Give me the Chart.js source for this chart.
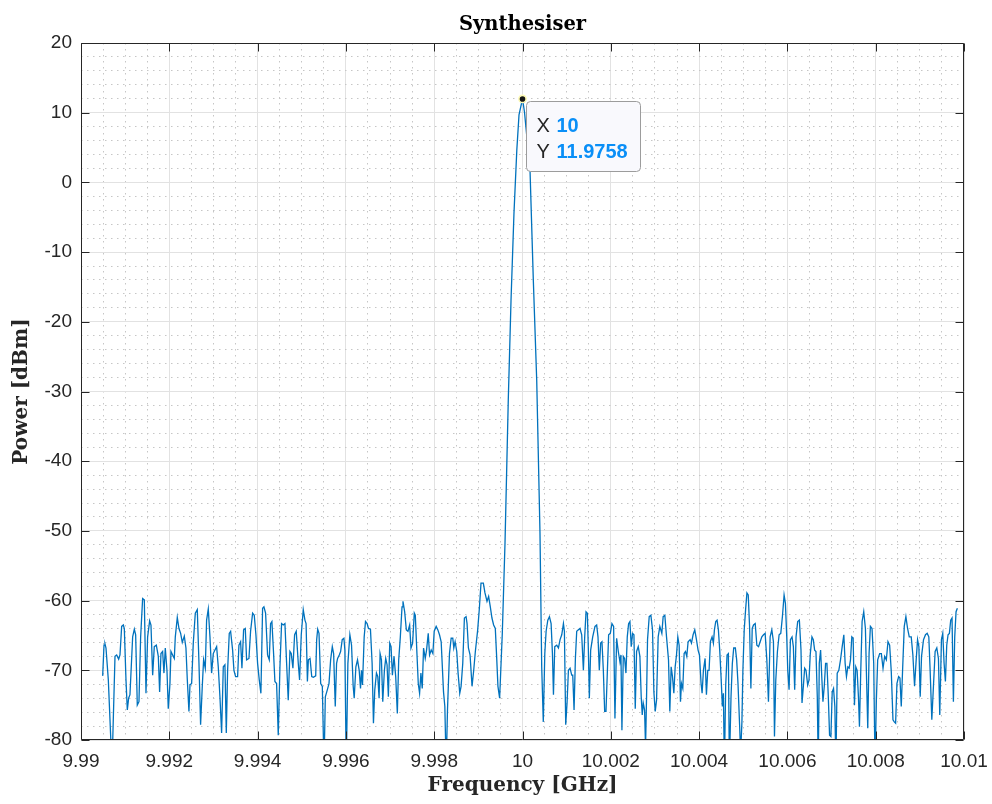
<!DOCTYPE html>
<html>
<head>
<meta charset="utf-8">
<script src="https://cdn.jsdelivr.net/npm/chart.js@4/dist/chart.umd.min.js"></script>
<style>
html,body{margin:0;padding:0;background:#fff;}
canvas{display:block;}
</style>
</head>
<body>
<canvas id="c" width="992" height="804"></canvas>
<script>
const chartTitle = 'Synthesiser';
const xAxisTitle = 'Frequency [GHz]';
const yAxisTitle = 'Power [dBm]';
const xTickValues = [9.99, 9.992, 9.994, 9.996, 9.998, 10, 10.002, 10.004, 10.006, 10.008, 10.01];
const xTickLabels = ['9.99','9.992','9.994','9.996','9.998','10','10.002','10.004','10.006','10.008','10.01'];
const yTickValues = [-80, -70, -60, -50, -40, -30, -20, -10, 0, 10, 20];
const yTickLabels = ['-80','-70','-60','-50','-40','-30','-20','-10','0','10','20'];
const datatipLabels = ['X', 'Y'];

const freqGHz = [
9.990491,9.990521,9.990543,9.990566,9.990619,9.990702,9.990770,9.990808,9.990853,9.990883,
9.990921,9.990959,9.990981,9.991019,9.991049,9.991079,9.991109,9.991170,9.991208,9.991238,
9.991275,9.991313,9.991351,9.991396,9.991434,9.991472,9.991509,9.991555,9.991585,9.991623,
9.991660,9.991706,9.991751,9.991781,9.991811,9.991849,9.991879,9.991909,9.991947,9.991977,
9.992015,9.992038,9.992075,9.992113,9.992136,9.992181,9.992219,9.992257,9.992294,9.992340,
9.992377,9.992408,9.992445,9.992468,9.992506,9.992543,9.992589,9.992634,9.992672,9.992709,
9.992747,9.992777,9.992815,9.992845,9.992883,9.992921,9.992958,9.992996,9.993034,9.993072,
9.993109,9.993147,9.993185,9.993223,9.993260,9.993291,9.993321,9.993358,9.993389,9.993434,
9.993464,9.993502,9.993547,9.993577,9.993615,9.993645,9.993683,9.993721,9.993751,9.993804,
9.993841,9.993887,9.993924,9.993962,9.994000,9.994038,9.994075,9.994113,9.994143,9.994181,
9.994226,9.994264,9.994294,9.994324,9.994362,9.994392,9.994430,9.994468,9.994506,9.994543,
9.994581,9.994619,9.994657,9.994694,9.994732,9.994762,9.994800,9.994838,9.994875,9.994921,
9.994951,9.994989,9.995034,9.995072,
9.995098,9.995128,9.995150,9.995188,9.995226,9.995263,9.995316,9.995338,9.995361,9.995391,
9.995429,9.995466,9.995504,9.995534,9.995579,9.995617,9.995654,9.995692,9.995722,9.995759,
9.995789,9.995812,9.995850,9.995880,9.995917,9.995955,9.995977,9.996008,9.996045,9.996090,
9.996128,9.996165,9.996188,9.996226,9.996263,9.996301,9.996331,9.996353,9.996376,9.996414,
9.996444,9.996481,9.996511,9.996556,9.996594,9.996624,9.996654,9.996692,9.996722,9.996752,
9.996774,9.996805,9.996835,9.996872,9.996902,9.996932,9.996962,9.996993,9.997023,9.997053,
9.997090,9.997128,9.997165,9.997196,9.997233,9.997271,9.997293,9.997331,9.997369,9.997406,
9.997444,9.997474,9.997511,9.997549,9.997572,9.997609,9.997639,9.997669,9.997699,9.997729,
9.997759,9.997797,9.997827,9.997865,9.997895,9.997932,9.997970,9.998000,9.998045,9.998083,
9.998120,9.998158,9.998211,9.998241,9.998271,9.998301,9.998346,9.998384,9.998421,9.998444,
9.998474,9.998511,9.998541,9.998579,9.998609,9.998647,9.998684,9.998722,9.998744,9.998775,
9.998812,9.998857,9.998895,9.998932,9.998985,9.999023,9.999060,9.999113,9.999150,9.999196,
9.999233,9.999271,9.999308,9.999346,9.999384,9.999414,9.999444,9.999482,
9.999543,9.999604,9.999678,9.999740,9.999807,9.999871,9.999921,10.000000,10.000045,10.000170,
10.000245,10.000322,10.000396,10.000435,10.000471,
10.000505,10.000535,10.000573,10.000610,10.000648,10.000678,10.000701,10.000731,10.000776,10.000814,
10.000851,10.000889,10.000927,10.000949,10.000979,10.001009,10.001040,10.001077,10.001115,10.001138,
10.001168,10.001198,10.001228,10.001266,10.001303,10.001341,10.001379,10.001409,10.001439,10.001469,
10.001492,10.001514,10.001544,10.001590,10.001642,10.001680,10.001710,10.001740,10.001770,10.001800,
10.001831,10.001861,10.001891,10.001921,10.001951,10.001989,10.002026,10.002064,10.002094,10.002132,
10.002170,10.002207,10.002230,10.002252,10.002283,10.002313,10.002343,10.002373,10.002403,10.002433,
10.002463,10.002493,10.002524,10.002554,10.002584,10.002622,10.002659,10.002689,10.002712,10.002735,
10.002765,10.002787,10.002810,10.002832,10.002870,10.002908,10.002945,10.002976,10.003006,10.003036,
10.003073,10.003111,10.003156,10.003186,10.003224,10.003262,10.003307,10.003337,10.003367,10.003397,
10.003428,10.003458,10.003488,10.003518,10.003548,10.003578,10.003601,10.003631,10.003661,10.003691,
10.003721,10.003751,10.003797,10.003827,10.003864,10.003902,10.003940,10.003977,10.004008,10.004045,
10.004068,10.004098,10.004136,10.004166,10.004196,10.004226,10.004256,10.004294,10.004324,10.004347,
10.004377,10.004407,10.004437,10.004467,10.004497,10.004527,10.004550,10.004573,10.004603,10.004633,
10.004663,10.004686,10.004723,10.004753,10.004784,10.004821,10.004851,10.004881,10.004919,
10.004940,10.004970,10.004992,10.005022,10.005053,10.005083,10.005113,10.005143,10.005173,10.005203,
10.005233,10.005271,10.005308,10.005346,10.005383,10.005421,10.005459,10.005496,10.005534,10.005571,
10.005609,10.005647,10.005684,10.005707,10.005737,10.005774,10.005812,10.005850,10.005887,10.005925,
10.005955,10.005985,10.006008,10.006038,10.006068,10.006105,10.006135,10.006165,10.006196,10.006233,
10.006271,10.006308,10.006331,10.006361,10.006391,10.006421,10.006459,10.006489,10.006519,10.006556,
10.006587,10.006617,10.006647,10.006677,10.006699,10.006722,10.006752,10.006782,10.006805,10.006835,
10.006865,10.006895,10.006925,10.006955,10.006985,10.007015,10.007045,10.007075,10.007098,10.007128,
10.007165,10.007203,10.007241,10.007278,10.007308,10.007338,10.007369,10.007399,10.007429,10.007459,
10.007489,10.007519,10.007549,10.007579,10.007609,10.007632,10.007662,10.007692,10.007729,10.007767,
10.007790,10.007820,10.007850,10.007880,10.007917,10.007955,10.007985,10.008015,10.008045,10.008090,
10.008128,10.008166,10.008203,10.008241,10.008278,10.008316,10.008353,10.008391,10.008421,10.008451,
10.008481,10.008519,10.008549,10.008579,10.008609,10.008647,10.008684,10.008722,10.008760,10.008805,
10.008842,10.008880,10.008917,10.008948,10.008978,10.009008,10.009038,10.009083,10.009128,10.009166,
10.009203,10.009233,10.009271,10.009308,10.009346,10.009384,10.009421,10.009451,10.009489,10.009519,
10.009549,10.009579,10.009609,10.009639,10.009669,10.009699,10.009729,10.009760,10.009790,10.009820,
10.009850
];

const powerDbm = [
-70.8,-66.4,-66.2,-66.8,-71.4,-84,-68.0,-67.8,-68.4,-67.8,
-63.7,-63.5,-64.0,-71.4,-75.7,-74.0,-73.5,-65.2,-64.1,-64.9,
-75.0,-74.5,-65.2,-59.7,-59.9,-73.3,-65.2,-62.9,-63.5,-70.7,
-66.6,-66.4,-68.0,-73.1,-67.6,-67.3,-70.4,-66.8,-70.0,-75.5,
-71.9,-67.3,-67.8,-68.3,-65.2,-62.4,-64.0,-64.7,-66.0,-65.1,
-66.8,-71.4,-75.9,-72.1,-71.9,-66.1,-61.8,-61.3,-69.0,-77.8,
-72.3,-68.5,-69.7,-62.8,-61.2,-65.2,-70.4,-67.6,-67.1,-66.6,
-69.5,-73.8,-79.0,-69.5,-69.2,-79.0,-70.0,-64.7,-64.4,-67.1,
-70.0,-70.9,-70.9,-66.4,-65.9,-69.7,-64.2,-64.0,-68.5,-68.3,
-64.4,-61.8,-62.1,-64.9,-69.0,-71.4,-73.3,-61.1,-60.9,-61.8,
-67.8,-68.5,-63.3,-63.0,-67.6,-71.6,-71.9,-79.3,-69.5,-63.3,
-63.5,-63.3,-69.0,-74.3,-67.3,-67.6,-69.7,-64.9,-64.4,-69.0,
-71.4,-64.9,-61.3,-62.8,
-63.3,-71.6,-68.5,-68.3,-70.9,-71.0,-70.8,-65.6,-64.1,-64.7,
-71.9,-72.3,-84,-73.8,-72.8,-71.9,-68.5,-66.6,-67.6,-75.2,
-69.0,-68.3,-67.8,-67.3,-65.6,-65.4,-67.1,-84,-69.0,-64.9,
-66.4,-72.3,-74.0,-69.5,-68.5,-70.0,-72.6,-70.0,-72.1,-65.2,
-63.0,-63.3,-64.0,-64.1,-69.0,-77.6,-72.8,-70.4,-70.9,-74.0,
-67.6,-68.5,-74.5,-70.0,-68.3,-69.2,-73.8,-66.1,-66.6,-70.7,
-68.0,-70.9,-76.2,-68.5,-65.2,-60.9,-60.1,-61.6,-64.2,-64.4,
-63.5,-66.8,-66.1,-61.8,-62.1,-67.6,-71.9,-73.3,-70.4,-72.6,
-66.8,-68.3,-67.1,-64.7,-67.8,-67.1,-67.6,-64.4,-63.7,-64.2,
-64.9,-65.9,-73.1,-75.2,-84,-75.7,-67.6,-65.4,-65.4,-66.8,
-65.9,-67.3,-70.4,-73.3,-72.3,-69.0,-62.5,-62.3,-63.3,-66.8,
-67.8,-72.3,-70.0,-67.3,-64.2,-61.1,-57.5,-57.5,-58.9,-60.1,
-59.4,-60.9,-62.5,-63.5,-64.0,-68.0,-72.3,-74.0,
-64.6,-51.7,-31.2,-16.9,-4.4,4.6,9.7,11.9758,10.1,1.8,
-14.0,-28.4,-50.3,-69.5,-77.4,
-67.6,-64.4,-62.8,-62.3,-63.3,-67.6,-73.5,-66.6,-66.4,-66.8,
-65.6,-64.9,-63.3,-64.4,-77.8,-74.7,-70.0,-69.7,-70.7,-70.7,
-75.7,-68.3,-64.4,-64.2,-64.0,-64.9,-70.0,-65.2,-61.6,-61.8,
-67.1,-74.0,-67.1,-65.2,-63.7,-63.5,-65.2,-70.0,-66.1,-65.9,
-70.0,-75.9,-75.9,-70.4,-64.9,-64.7,-63.3,-63.7,-76.9,-65.4,
-67.3,-68.8,-67.8,-78.6,-68.0,-68.3,-70.4,-65.2,-63.3,-63.0,
-66.6,-64.7,-64.9,-75.5,-67.3,-66.6,-68.0,-73.8,-76.4,-74.7,
-75.7,-81,-73.8,-65.6,-62.3,-62.1,-64.2,-73.1,-75.9,-74.3,
-65.2,-63.7,-64.7,-62.3,-62.1,-65.2,-68.5,-75.9,-69.5,-70.9,
-73.3,-69.5,-67.8,-65.2,-66.4,-74.5,-71.9,-72.6,-67.6,-67.3,
-68.0,-65.9,-65.6,-66.1,-64.9,-64.2,-65.6,-67.1,-67.8,-71.9,
-73.3,-70.0,-68.3,-73.5,-70.0,-70.0,-65.9,-65.2,-66.1,-64.2,
-63.0,-62.8,-64.2,-67.1,-70.9,-75.2,-73.3,-84,-72.1,-67.8,
-67.6,-84,-73.8,-69.0,-66.8,-66.8,-68.5,-71.9,-78.1,
-82,-77.4,-70.0,-64.2,-61.3,-58.9,-59.2,-63.7,-72.6,-64.0,
-63.5,-63.3,-66.4,-66.6,-65.9,-65.2,-64.9,-64.7,-68.5,-74.5,
-65.2,-64.2,-65.9,-79.5,-71.4,-67.3,-64.9,-64.7,-62.3,-59.2,
-60.4,-65.2,-70.0,-72.8,-65.6,-65.2,-66.6,-72.8,-65.2,-63.0,
-62.8,-67.1,-74.7,-72.3,-69.7,-70.0,-72.1,-71.4,-67.6,-65.2,
-65.6,-67.1,-67.3,-73.8,-84,-69.0,-67.1,-71.4,-74.5,-72.3,
-69.0,-69.0,-73.5,-79.3,-79.5,-73.1,-72.6,-75.2,-84,-70.4,
-70.0,-68.5,-66.6,-64.9,-69.0,-70.9,-69.5,-69.7,-68.5,-65.2,
-65.4,-75.0,-69.5,-70.0,-73.8,-78.1,-70.0,-63.0,-61.6,-64.0,
-70.4,-78.3,-67.6,-63.7,-64.0,-69.0,-84,-74.3,-68.5,-67.6,
-67.6,-69.7,-68.0,-68.5,-65.9,-66.4,-70.2,-77.1,-77.4,-77.6,
-71.9,-70.9,-71.1,-75.2,-70.0,-63.7,-62.3,-64.0,-65.2,-65.2,
-67.8,-72.3,-68.5,-65.6,-66.6,-73.8,-68.0,-65.6,-64.9,-64.7,
-65.2,-70.0,-77.1,-72.3,-67.3,-66.8,-68.3,-76.4,-65.6,-64.7,
-69.0,-71.6,-66.4,-64.9,-64.7,-62.8,-62.5,-74.5,-65.2,-61.6,
-61.1
];

if (freqGHz.length !== powerDbm.length) {
  console.error('length mismatch', freqGHz.length, powerDbm.length);
}

const points = freqGHz.map((f, i) => ({x: f, y: powerDbm[i]}));

function makeTicks(majors, labels, nSub) {
  const out = [];
  for (let i = 0; i < majors.length; i++) {
    out.push({value: majors[i], isMajor: true, tickLabel: labels[i]});
    if (i < majors.length - 1) {
      for (let j = 1; j < nSub; j++) {
        out.push({value: majors[i] + (majors[i + 1] - majors[i]) * j / nSub, isMajor: false, tickLabel: ''});
      }
    }
  }
  return out;
}

const SANS = "'Liberation Sans', Arial, Helvetica, sans-serif";
const SERIF = "'DejaVu Serif', serif";
const AXIS_COLOR = '#262626';

const gridColor = c => (c.tick && c.tick.isMajor) ? '#e2e2e2' : '#c6c6c6';
const gridDash = c => (c.tick && !c.tick.isMajor) ? [1.5, 4.5] : [];

const framePlugin = {
  id: 'matlabFrame',
  afterDatasetsDraw(chart) {
    const {ctx, chartArea: a, scales} = chart;
    const L = Math.round(a.left) + 0.5, R = Math.round(a.right) - 0.5;
    const T = Math.round(a.top) + 0.5, B = Math.round(a.bottom) - 0.5;
    ctx.save();
    ctx.strokeStyle = AXIS_COLOR;
    ctx.lineWidth = 1;
    ctx.beginPath();
    ctx.rect(L, T, R - L, B - T);
    const tl = 8;
    xTickValues.forEach(v => {
      const px = Math.round(scales.x.getPixelForValue(v)) + 0.5;
      ctx.moveTo(px, B); ctx.lineTo(px, B - tl);
      ctx.moveTo(px, T); ctx.lineTo(px, T + tl);
    });
    yTickValues.forEach(v => {
      const py = Math.round(scales.y.getPixelForValue(v)) + 0.5;
      ctx.moveTo(L, py); ctx.lineTo(L + tl, py);
      ctx.moveTo(R, py); ctx.lineTo(R - tl, py);
    });
    ctx.stroke();
    ctx.restore();
  },
  afterDraw(chart) {
    const {ctx} = chart;
    let idx = 0;
    powerDbm.forEach((v, i) => { if (v > powerDbm[idx]) idx = i; });
    const el = chart.getDatasetMeta(0).data[idx];
    if (!el) return;
    const px = el.x, py = el.y;
    ctx.save();
    const bx = Math.round(px + 3) + 0.5, by = Math.round(py + 2.5) + 0.5, bw = 114, bh = 70, r = 4;
    ctx.beginPath();
    ctx.moveTo(bx + r, by);
    ctx.lineTo(bx + bw - r, by); ctx.arcTo(bx + bw, by, bx + bw, by + r, r);
    ctx.lineTo(bx + bw, by + bh - r); ctx.arcTo(bx + bw, by + bh, bx + bw - r, by + bh, r);
    ctx.lineTo(bx + r, by + bh); ctx.arcTo(bx, by + bh, bx, by + bh - r, r);
    ctx.lineTo(bx, by + r); ctx.arcTo(bx, by, bx + r, by, r);
    ctx.closePath();
    ctx.fillStyle = '#f9f9fd';
    ctx.fill();
    ctx.strokeStyle = '#9c9c9c';
    ctx.lineWidth = 1;
    ctx.stroke();
    ctx.textBaseline = 'alphabetic';
    ctx.textAlign = 'left';
    ctx.font = '20px ' + SANS;
    ctx.fillStyle = '#262626';
    ctx.fillText(datatipLabels[0], bx + 10, by + 30);
    ctx.fillText(datatipLabels[1], bx + 10, by + 56.5);
    ctx.font = 'bold 20px ' + SANS;
    ctx.fillStyle = '#0a8ff7';
    ctx.fillText(String(Number(freqGHz[idx].toFixed(6))), bx + 30, by + 30);
    ctx.fillText(String(powerDbm[idx]), bx + 30, by + 56.5);
    ctx.beginPath();
    ctx.arc(px, py, 3.6, 0, Math.PI * 2);
    ctx.fillStyle = '#151515';
    ctx.fill();
    ctx.strokeStyle = '#fffcb8';
    ctx.lineWidth = 1.6;
    ctx.stroke();
    ctx.restore();
  }
};

new Chart(document.getElementById('c'), {
  type: 'line',
  data: {
    datasets: [{
      data: points,
      borderColor: '#0072BD',
      borderWidth: 1.3,
      pointRadius: 0,
      tension: 0,
      fill: false,
      clip: 0
    }]
  },
  options: {
    responsive: false,
    animation: false,
    devicePixelRatio: 1,
    events: [],
    layout: {padding: {left: 0, right: 28, top: 0, bottom: 0}},
    plugins: {
      legend: {display: false},
      tooltip: {enabled: false},
      title: {
        display: true,
        text: chartTitle,
        fullSize: false,
        color: '#000',
        font: {family: SERIF, weight: 'bold', size: 19.5, lineHeight: 1},
        padding: {top: 15, bottom: 8.5}
      }
    },
    scales: {
      x: {
        type: 'linear',
        min: xTickValues[0],
        max: xTickValues[xTickValues.length - 1],
        afterBuildTicks: s => { s.ticks = makeTicks(xTickValues, xTickLabels, 4); },
        afterFit: s => { s.height = 64; s.paddingLeft = 0; s.paddingRight = 0; },
        grid: {color: gridColor, lineWidth: 1, drawTicks: false},
        border: {display: false, dash: gridDash},
        ticks: {
          autoSkip: false, maxRotation: 0, minRotation: 0, padding: 10,
          color: AXIS_COLOR, font: {family: SANS, size: 19},
          callback: (v, i, ticks) => ticks[i].tickLabel || ''
        },
        title: {
          display: true, text: xAxisTitle, color: AXIS_COLOR,
          font: {family: SERIF, weight: 'bold', size: 20},
          padding: {top: 0, bottom: 6}
        }
      },
      y: {
        type: 'linear',
        min: yTickValues[0],
        max: yTickValues[yTickValues.length - 1],
        afterBuildTicks: s => { s.ticks = makeTicks(yTickValues, yTickLabels, 5); },
        afterFit: s => { s.width = 81; s.paddingTop = 0; s.paddingBottom = 0; },
        grid: {color: gridColor, lineWidth: 1, drawTicks: false},
        border: {display: false, dash: gridDash},
        ticks: {
          autoSkip: false, padding: 9,
          color: AXIS_COLOR, font: {family: SANS, size: 19},
          callback: (v, i, ticks) => ticks[i].tickLabel || ''
        },
        title: {
          display: true, text: yAxisTitle, color: AXIS_COLOR,
          font: {family: SERIF, weight: 'bold', size: 20},
          padding: {top: 10, bottom: 0}
        }
      }
    }
  },
  plugins: [framePlugin]
});
</script>
</body>
</html>
